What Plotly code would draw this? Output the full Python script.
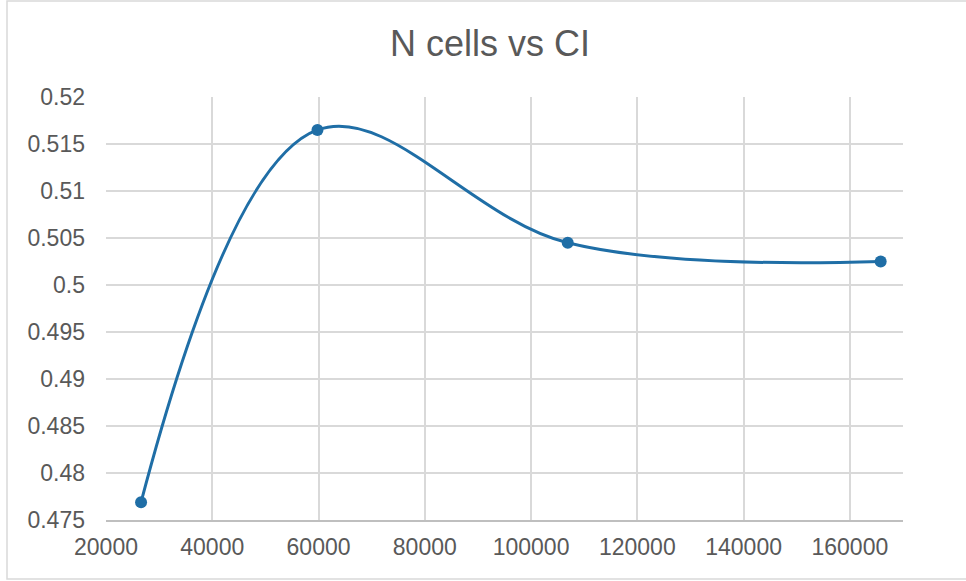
import plotly.graph_objects as go

# Number of cells and the corresponding CI value
n_cells = [26600, 59800, 106900, 165800]
ci_values = [0.4769, 0.5165, 0.5045, 0.5025]

x_ticks = [20000, 40000, 60000, 80000, 100000, 120000, 140000, 160000]
y_ticks = [0.475, 0.48, 0.485, 0.49, 0.495, 0.5, 0.505, 0.51, 0.515, 0.52]

W, H = 966, 581
ML, MR, MT, MB = 106, 63, 97, 61
blue = "#1F6EA6"
grey_text = "#595959"
grid = "#D9D9D9"

fig = go.Figure()
fig.add_trace(go.Scatter(
    x=n_cells, y=ci_values,
    mode="lines+markers",
    line=dict(color=blue, width=3, shape="spline", smoothing=1.05),
    marker=dict(color=blue, size=12),
    hoverinfo="x+y",
))

pw = W - ML - MR
ph = H - MT - MB


def px_x(p):
    return (p - ML) / pw


def px_y(p):
    return (H - MB - p) / ph


fig.update_layout(
    width=W, height=H,
    margin=dict(l=ML, r=MR, t=MT, b=MB),
    paper_bgcolor="white", plot_bgcolor="white",
    showlegend=False,
    font=dict(family="Liberation Sans, Arial, sans-serif", color=grey_text, size=23),
    title=dict(text="N cells vs CI", x=px_x(490), xanchor="center", xref="paper",
               y=1 - 43 / H, yanchor="middle",
               font=dict(size=36, color=grey_text)),
    xaxis=dict(range=[20000, 170000], tickvals=x_ticks,
               ticktext=[str(v) for v in x_ticks],
               showgrid=True, gridcolor=grid, gridwidth=1.5,
               showline=True, linecolor="#BFBFBF", linewidth=1.5,
               zeroline=False, ticks="", ticklen=0, ticklabelstandoff=6,
               tickfont=dict(size=23, color=grey_text)),
    yaxis=dict(range=[0.475, 0.52], tickvals=y_ticks,
               ticktext=[f"{v:g}" for v in y_ticks],
               showgrid=True, gridcolor=grid, gridwidth=1.5,
               showline=False, zeroline=False, ticks="", ticklabelstandoff=20,
               tickfont=dict(size=23, color=grey_text)),
)

# Light chart-area frame
fig.add_shape(type="rect", xref="paper", yref="paper",
              x0=px_x(7), x1=px_x(W + 5),
              y0=px_y(579), y1=px_y(1),
              line=dict(color="#D9D9D9", width=1.5), fillcolor="rgba(0,0,0,0)", layer="below")

fig.write_html("out.html")
